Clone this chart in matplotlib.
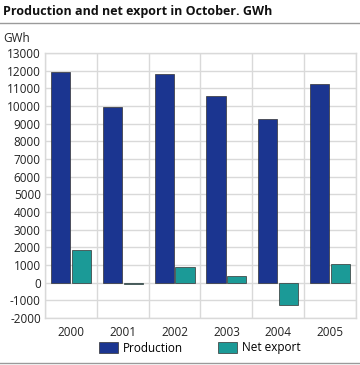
import numpy as np
import matplotlib
matplotlib.use('Agg')
import matplotlib.pyplot as plt
from matplotlib.lines import Line2D
from matplotlib.patches import Patch

plt.rcParams['font.family'] = ['Open Sans', 'DejaVu Sans']

# ── Data ─────────────────────────────────────────────────────
years = ['2000', '2001', '2002', '2003', '2004', '2005']
production = [11900, 9920, 11830, 10590, 9280, 11270]
net_export = [1870, -50, 870, 350, -1260, 1070]

PROD_C = '#1b3590'
NET_C = '#1b9a97'
GRID_C = '#d9d9d9'

fig = plt.figure(figsize=(3.6, 3.65), dpi=100)
ax = fig.add_axes([45 / 360, 1 - 318 / 365, 311 / 360, 265 / 365])

x = np.arange(len(years))
w = 0.37
ax.bar(x - 0.2, production, w, color=PROD_C, edgecolor='#333333', linewidth=0.5, zorder=3)
ax.bar(x + 0.2, net_export, w, color=NET_C, edgecolor='#333333', linewidth=0.5, zorder=3)

ax.set_xlim(-0.5, len(years) - 0.5)
ax.set_ylim(-2000, 13000)
ax.set_yticks(range(-2000, 13001, 1000))
ax.set_yticklabels([str(v) for v in range(-2000, 13001, 1000)])
ax.set_xticks(x)
ax.set_xticklabels(years)

# vertical separators between categories
ax.set_xticks(np.arange(-0.5, len(years), 1), minor=True)
ax.grid(axis='y', which='major', color=GRID_C, linewidth=1.0, zorder=0)
ax.grid(axis='x', which='minor', color=GRID_C, linewidth=1.0, zorder=0)

ax.tick_params(axis='both', which='both', length=0, labelsize=8.5, colors='#222222')
ax.tick_params(axis='x', pad=6)
ax.tick_params(axis='y', pad=3)
for s in ax.spines.values():
    s.set_color(GRID_C)
    s.set_linewidth(1.0)

# title + header line
fig.text(3 / 360, 1 - 11 / 365, 'Production and net export in October. GWh',
         fontsize=9, fontweight='bold', va='center', ha='left', color='#111111')
fig.add_artist(Line2D([0, 1], [1 - 22.5 / 365] * 2, color='#9a9a9a', linewidth=1.0))
fig.text(3 / 360, 1 - 38 / 365, 'GWh', fontsize=8.5, va='center', ha='left', color='#222222')

# legend
handles = [Patch(facecolor=PROD_C, edgecolor='#333333', linewidth=0.5, label='Production'),
           Patch(facecolor=NET_C, edgecolor='#333333', linewidth=0.5, label='Net export')]
fig.legend(handles=handles, loc='center', bbox_to_anchor=(200 / 360, 1 - 348 / 365),
           ncol=2, frameon=False, fontsize=8.5, handlelength=1.6, handleheight=1.0,
           columnspacing=3.0, handletextpad=0.4)
fig.add_artist(Line2D([0, 1], [1 - 363 / 365] * 2, color='#9a9a9a', linewidth=1.0))

fig.savefig('out.png', dpi=100)
